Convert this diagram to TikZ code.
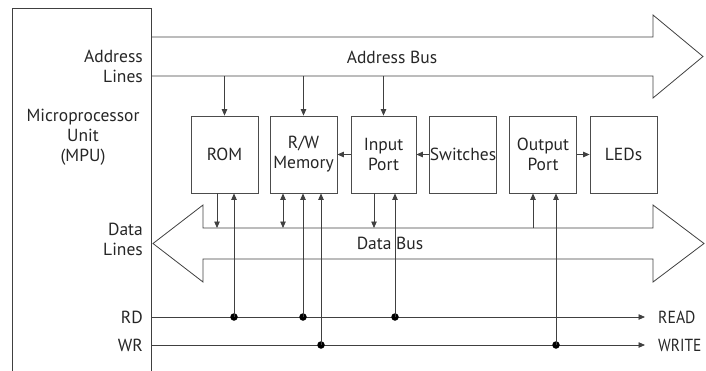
\documentclass[tikz,border=0pt]{standalone}
\usepackage{fontspec}
\setmainfont{PT Sans}
\usetikzlibrary{arrows.meta,calc}
\begin{document}
\begin{tikzpicture}[x=1pt,y=-1pt,
  line/.style={draw=black!75, line width=0.8pt},
  blk/.style={draw=black!70, line width=0.8pt, minimum width=67pt, minimum height=77pt, inner sep=0pt, align=center, font=\fontsize{17.5}{20}\selectfont, text=black!85},
  lbl/.style={font=\fontsize{17.5}{20}\selectfont, inner sep=0pt, text=black!85},
  tip/.style={-{Triangle[length=6.5pt,width=5.5pt]}},
  dtip/.style={{Triangle[length=6.5pt,width=5.5pt]}-{Triangle[length=6.5pt,width=5.5pt]}},
  dot/.style={circle, fill=black, inner sep=0pt, minimum size=7.5pt},
]
\useasboundingbox (0,0) rectangle (706,370);
% MPU
\draw[line] (12,372) -- (12,8) -- (151,8) -- (151,372);
\node[lbl, align=center] (mpu) at (83,137) {Microprocessor\\Unit\\(MPU)};
\node[lbl, align=right, anchor=east] (adl) at (143,66) {Address\\Lines};
\node[lbl, align=right, anchor=east] (dtl) at (143,239) {Data\\Lines};
\node[lbl, anchor=east] (rdl) at (143,317) {RD};
\node[lbl, anchor=east] (wrl) at (143,345) {WR};
% address bus
\draw[line] (151,37) -- (653,37) -- (653,15) -- (703,56.5) -- (653,98) -- (653,76) -- (151,76);
\coordinate (ab) at (151,76);
\node[lbl] (abus) at (392,57) {Address Bus};
% data bus
\draw[line] (153,243.5) -- (203,205) -- (203,228) -- (653,228) -- (653,205) -- (704,243.5) -- (653,282) -- (653,259) -- (203,259) -- (203,282) -- cycle;
\coordinate (db) at (203,228);
\node[lbl] (dbus) at (390,243.5) {Data Bus};
% blocks
\node[blk] (rom) at (224.5,154.5) {ROM};
\node[blk] (rw)  at (303.5,154.5) {R/W\\Memory};
\node[blk, minimum width=65pt] (inp) at (383.5,154.5) {Input\\Port};
\node[blk] (sw)  at (463,154.5) {Switches};
\node[blk] (outp) at (543,154.5) {Output\\Port};
\node[blk] (led) at (623.5,154.5) {LEDs};
% address connections
\draw[line,tip] (rom.north |- ab) -- (rom.north);
\draw[line,tip] (rw.north |- ab) -- (rw.north);
\draw[line,tip] (inp.north |- ab) -- (inp.north);
% horizontal between blocks
\draw[line,tip] (inp.west) -- (rw.east);
\draw[line,tip] (sw.west) -- (inp.east);
\draw[line,tip] (outp.east) -- (led.west);
% read / write lines
\coordinate (rd0) at (151,317);
\coordinate (wr0) at (151,345);
\node[lbl, anchor=west] (read) at (658,317) {\scalebox{0.9}[1]{READ}};
\node[lbl, anchor=west] (write) at (658,345) {\scalebox{0.88}[1]{WRITE}};
\draw[line,tip] (rd0) -- ($(read.west)+(-13,0)$);
\draw[line,tip] (wr0) -- ($(write.west)+(-13,0)$);
% dots
\node[dot] (d1) at (234,317) {};
\node[dot] (d2) at (303,317) {};
\node[dot] (d3) at (395,317) {};
\node[dot] (d4) at (321,345) {};
\node[dot] (d5) at (556,345) {};
% data connections
\draw[line,tip] (217,0 |- rom.south) -- (217,0 |- db);
\draw[line,dtip] (283,0 |- rw.south) -- (283,0 |- db);
\draw[line,tip] (374,0 |- inp.south) -- (374,0 |- db);
\draw[line,tip] (533,0 |- db) -- (533,0 |- outp.south);
% control connections
\draw[line,tip] (d1.center) -- (d1 |- rom.south);
\draw[line,tip] (d2.center) -- (d2 |- rw.south);
\draw[line,tip] (d4.center) -- (d4 |- rw.south);
\draw[line,tip] (d3.center) -- (d3 |- inp.south);
\draw[line,tip] (d5.center) -- (d5 |- outp.south);
\end{tikzpicture}
\end{document}
